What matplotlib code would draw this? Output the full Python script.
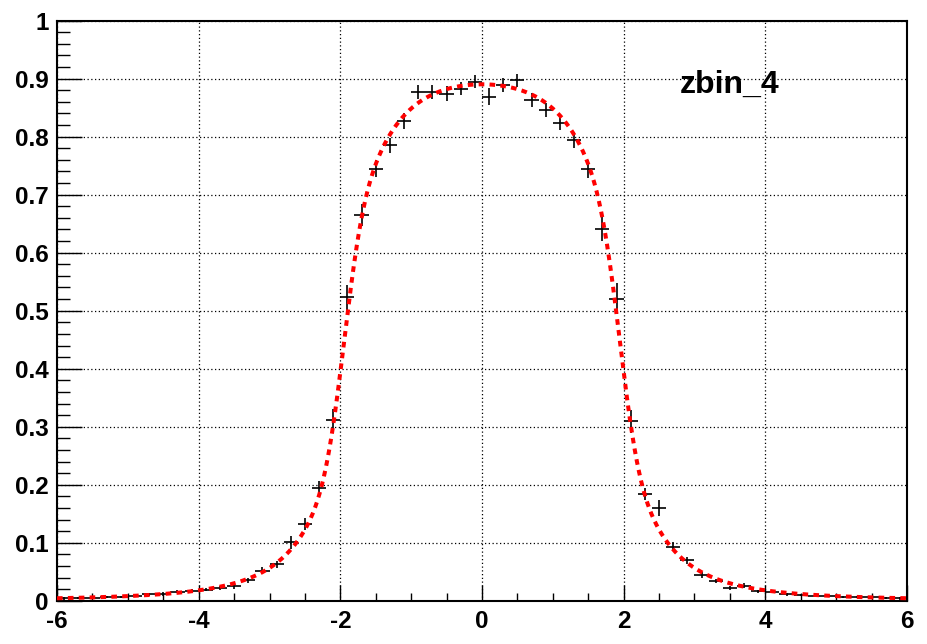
import math
import numpy as np
import matplotlib
matplotlib.use("Agg")
import matplotlib.pyplot as plt
from matplotlib.ticker import MultipleLocator, FuncFormatter

# ---- data ----
bin_edges = np.linspace(-6.0, 6.0, 61)
values = [0.004, 0.005, 0.005, 0.006, 0.007, 0.008, 0.011, 0.012, 0.0155, 0.0167,
          0.019, 0.022, 0.025, 0.035, 0.052, 0.063, 0.101, 0.132, 0.194, 0.311,
          0.523, 0.665, 0.745, 0.785, 0.827, 0.877, 0.877, 0.874, 0.883, 0.895,
          0.869, 0.889, 0.897, 0.863, 0.846, 0.824, 0.794, 0.744, 0.641, 0.521,
          0.309, 0.184, 0.160, 0.093, 0.070, 0.045, 0.034, 0.022, 0.026, 0.016,
          0.0155, 0.011, 0.010, 0.009, 0.008, 0.007, 0.006, 0.006, 0.005, 0.004]
errors = [0.002, 0.002, 0.002, 0.002, 0.002, 0.002, 0.003, 0.003, 0.003, 0.003,
          0.003, 0.004, 0.004, 0.005, 0.006, 0.006, 0.011, 0.010, 0.013, 0.019,
          0.021, 0.019, 0.015, 0.013, 0.013, 0.012, 0.012, 0.013, 0.012, 0.011,
          0.015, 0.012, 0.011, 0.012, 0.012, 0.013, 0.014, 0.015, 0.020, 0.026,
          0.019, 0.010, 0.014, 0.008, 0.006, 0.005, 0.004, 0.004, 0.004, 0.003,
          0.003, 0.003, 0.002, 0.002, 0.002, 0.002, 0.002, 0.002, 0.002, 0.002]
label_text = "zbin_4"

# fit function parameters
fit_a1, fit_r1, fit_s1 = 0.306, 1.95, 0.20
fit_a2, fit_r2, fit_g2 = 0.634, 1.90, 0.80

erf = np.vectorize(math.erf)


def fit_func(x):
    e = 0.5 * (erf((x + fit_r1) / (math.sqrt(2) * fit_s1)) -
               erf((x - fit_r1) / (math.sqrt(2) * fit_s1)))
    s = 0.5 * ((x + fit_r2) / np.sqrt(fit_g2 ** 2 + (x + fit_r2) ** 2) -
               (x - fit_r2) / np.sqrt(fit_g2 ** 2 + (x - fit_r2) ** 2))
    return fit_a1 * e + fit_a2 * s


x_centers = 0.5 * (bin_edges[:-1] + bin_edges[1:])
half_width = 0.5 * np.diff(bin_edges)

plt.rcParams['font.family'] = ['Liberation Sans', 'DejaVu Sans']
plt.rcParams['font.weight'] = 'bold'

fig = plt.figure(figsize=(9.27, 6.44), dpi=100)
ax = fig.add_axes([0.0615, 0.0672, 0.9169, 0.9007])

ax.set_xlim(-6, 6)
ax.set_ylim(0, 1)

ax.grid(True, which='major', color='black', linestyle=(0, (1, 2)), linewidth=0.9)
ax.set_axisbelow(True)

ax.errorbar(x_centers, values, xerr=half_width, yerr=errors, fmt='none',
            ecolor='black', elinewidth=1.2, capsize=0, zorder=3)

xf = np.linspace(-6, 6, 1200)
ax.plot(xf, fit_func(xf), color='#ff0000', linewidth=2.9,
        linestyle=(0, (1.4, 1.3)), zorder=4)

ax.xaxis.set_major_locator(MultipleLocator(2))
ax.xaxis.set_minor_locator(MultipleLocator(0.5))
ax.yaxis.set_major_locator(MultipleLocator(0.1))
ax.yaxis.set_minor_locator(MultipleLocator(0.02))

ax.xaxis.set_major_formatter(FuncFormatter(lambda v, p: f"{v:g}"))
ax.yaxis.set_major_formatter(FuncFormatter(lambda v, p: f"{v:g}"))

ax.tick_params(axis='x', which='major', direction='in', length=11.5, width=1.0,
               labelsize=17.5, pad=7, top=False)
ax.tick_params(axis='x', which='minor', direction='in', length=5.8, width=1.0, top=False)
ax.tick_params(axis='y', which='major', direction='in', length=18, width=1.0,
               labelsize=17.5, pad=6, right=False)
ax.tick_params(axis='y', which='minor', direction='in', length=9, width=1.0, right=False)
for lab in ax.get_xticklabels() + ax.get_yticklabels():
    lab.set_fontweight('bold')

for sp in ax.spines.values():
    sp.set_linewidth(1.5)
    sp.set_color('black')

ax.text(0.733, 0.876, label_text, transform=ax.transAxes, fontsize=23,
        fontweight='bold', ha='left', va='baseline')

fig.savefig("out.png", dpi=100)
